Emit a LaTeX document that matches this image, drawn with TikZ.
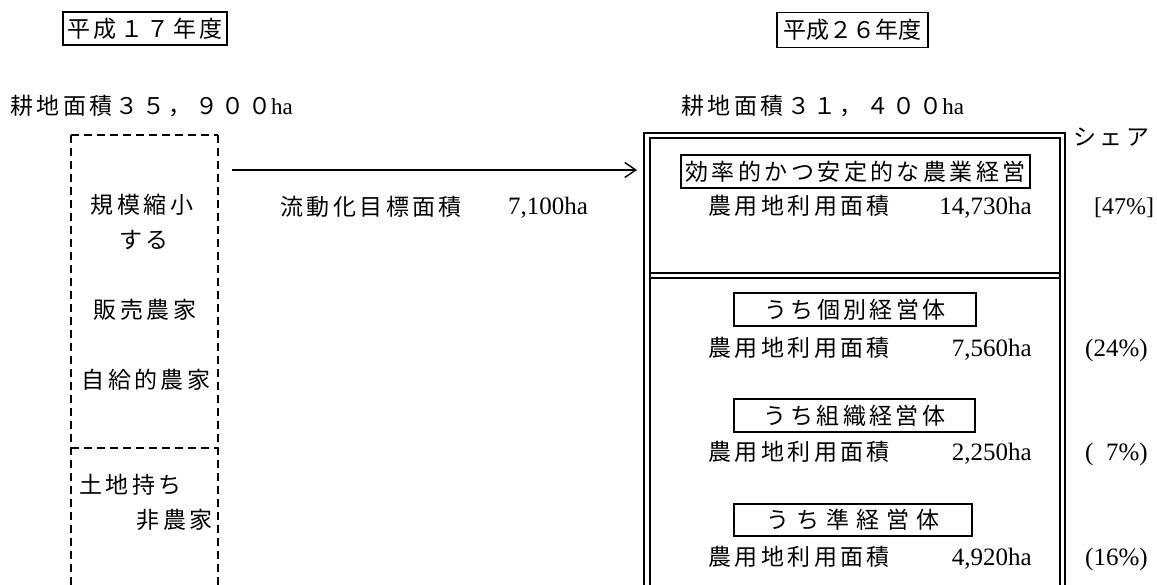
\documentclass[tikz,border=0pt]{standalone}
\usepackage{fontspec}
\setmainfont{Liberation Serif}
\newfontfamily\jp[LetterSpace=15]{Noto Sans CJK JP}
\newfontfamily\jpn{Noto Sans CJK JP}
\newfontfamily\jpwide[LetterSpace=30]{Noto Sans CJK JP}
\usetikzlibrary{arrows.meta}
\begin{document}
\begin{tikzpicture}[x=1pt,y=-1pt,
  jt/.style={font=\jp\fontsize{23}{27}\selectfont, inner sep=0pt},
  lt/.style={font=\rmfamily\fontsize{25}{29}\selectfont, inner sep=0pt},
  pt/.style={font=\rmfamily\fontsize{24}{28}\selectfont, inner sep=0pt},
  lbox/.style={draw, line width=1.4pt, inner sep=0pt, jt},
  dline/.style={line width=1.8pt, dash pattern=on 8pt off 5pt},
  frame/.style={line width=1.4pt},
  flow/.style={line width=1.4pt, -{Straight Barb[length=11pt,width=15pt,line width=1.4pt]}}]
\useasboundingbox (0,0) rectangle (1157,585);

% headers
\node[lbox, minimum width=164pt, minimum height=33pt] (h17) at (145,28.5) {平成１７年度};
\node[lbox, font=\jpn\fontsize{23}{27}\selectfont, minimum width=151pt, minimum height=35pt] (h26) at (852.5,30) {平成２６年度};

\node[jt, anchor=west] (area17) at (10,106) {耕地面積３５，９００{\rmfamily ha}};
\node[jt, anchor=west] (area26) at (681,106) {耕地面積３１，４００{\rmfamily ha}};

% left dashed box
\draw[dline] (71,135) -- (218,135);
\draw[dline] (71,135) -- (71,590);
\draw[dline] (218,135) -- (218,590);
\draw[dline] (71,448) -- (218,448);

\node[jt] (kibo) at (142,205) {規模縮小};
\node[jt] (suru) at (144,240) {する};
\node[jt] (hanbai) at (145,310) {販売農家};
\node[jt] (jikyu) at (146,380) {自給的農家};
\node[jt, anchor=west] (tochi) at (79,485) {土地持ち};
\node[jt, anchor=east] (hino) at (213,520) {非農家};

% flow arrow
\coordinate (a1) at (232,170);
\coordinate (a2) at (637,170);
\draw[flow] (a1) -- (a2);
\node[jt, anchor=west] (ryudo) at (280,207) {流動化目標面積};
\node[lt, anchor=base west] (ryudov) at (508,215) {7,100ha};

% right double frame
\draw[frame] (644,590) -- (644,133) -- (1065,133) -- (1065,590);
\draw[frame] (650,590) -- (650,138) -- (1060,138) -- (1060,590);
\draw[frame] (650,273) -- (1060,273);
\draw[frame] (650,278) -- (1060,278);

\node[jt, anchor=west] (share) at (1073,137) {シェア};

\node[lbox, minimum width=349pt, minimum height=33pt] (kouritsu) at (855.5,171.5) {効率的かつ安定的な農業経営};
\node[jt, anchor=west] (n1) at (708,206) {農用地利用面積};
\node[lt, anchor=base east] (v1) at (1032,215) {14,730ha};
\node[pt, anchor=base west] (p1) at (1094,215) {[47\%]};

\node[lbox, minimum width=242pt, minimum height=33pt] (kobetsu) at (855,309.5) {うち個別経営体};
\node[jt, anchor=west] (n2) at (708,348) {農用地利用面積};
\node[lt, anchor=base east] (v2) at (1032,357) {7,560ha};
\node[lt, anchor=base west] (p2) at (1085,357) {(24\%)};

\node[lbox, minimum width=241pt, minimum height=33pt] (soshiki) at (854.5,415.5) {うち組織経営体};
\node[jt, anchor=west] (n3) at (708,452) {農用地利用面積};
\node[lt, anchor=base east] (v3) at (1032,460) {2,250ha};
\node[lt, anchor=base west] (p3) at (1085,460) {(\hphantom{2}7\%)};

\node[lbox, font=\jpwide\fontsize{23}{27}\selectfont, minimum width=238pt, minimum height=32pt] (jun) at (853,520) {うち準経営体};
\node[jt, anchor=west] (n4) at (708,557) {農用地利用面積};
\node[lt, anchor=base east] (v4) at (1032,565) {4,920ha};
\node[lt, anchor=base west] (p4) at (1085,565) {(16\%)};
\end{tikzpicture}
\end{document}
